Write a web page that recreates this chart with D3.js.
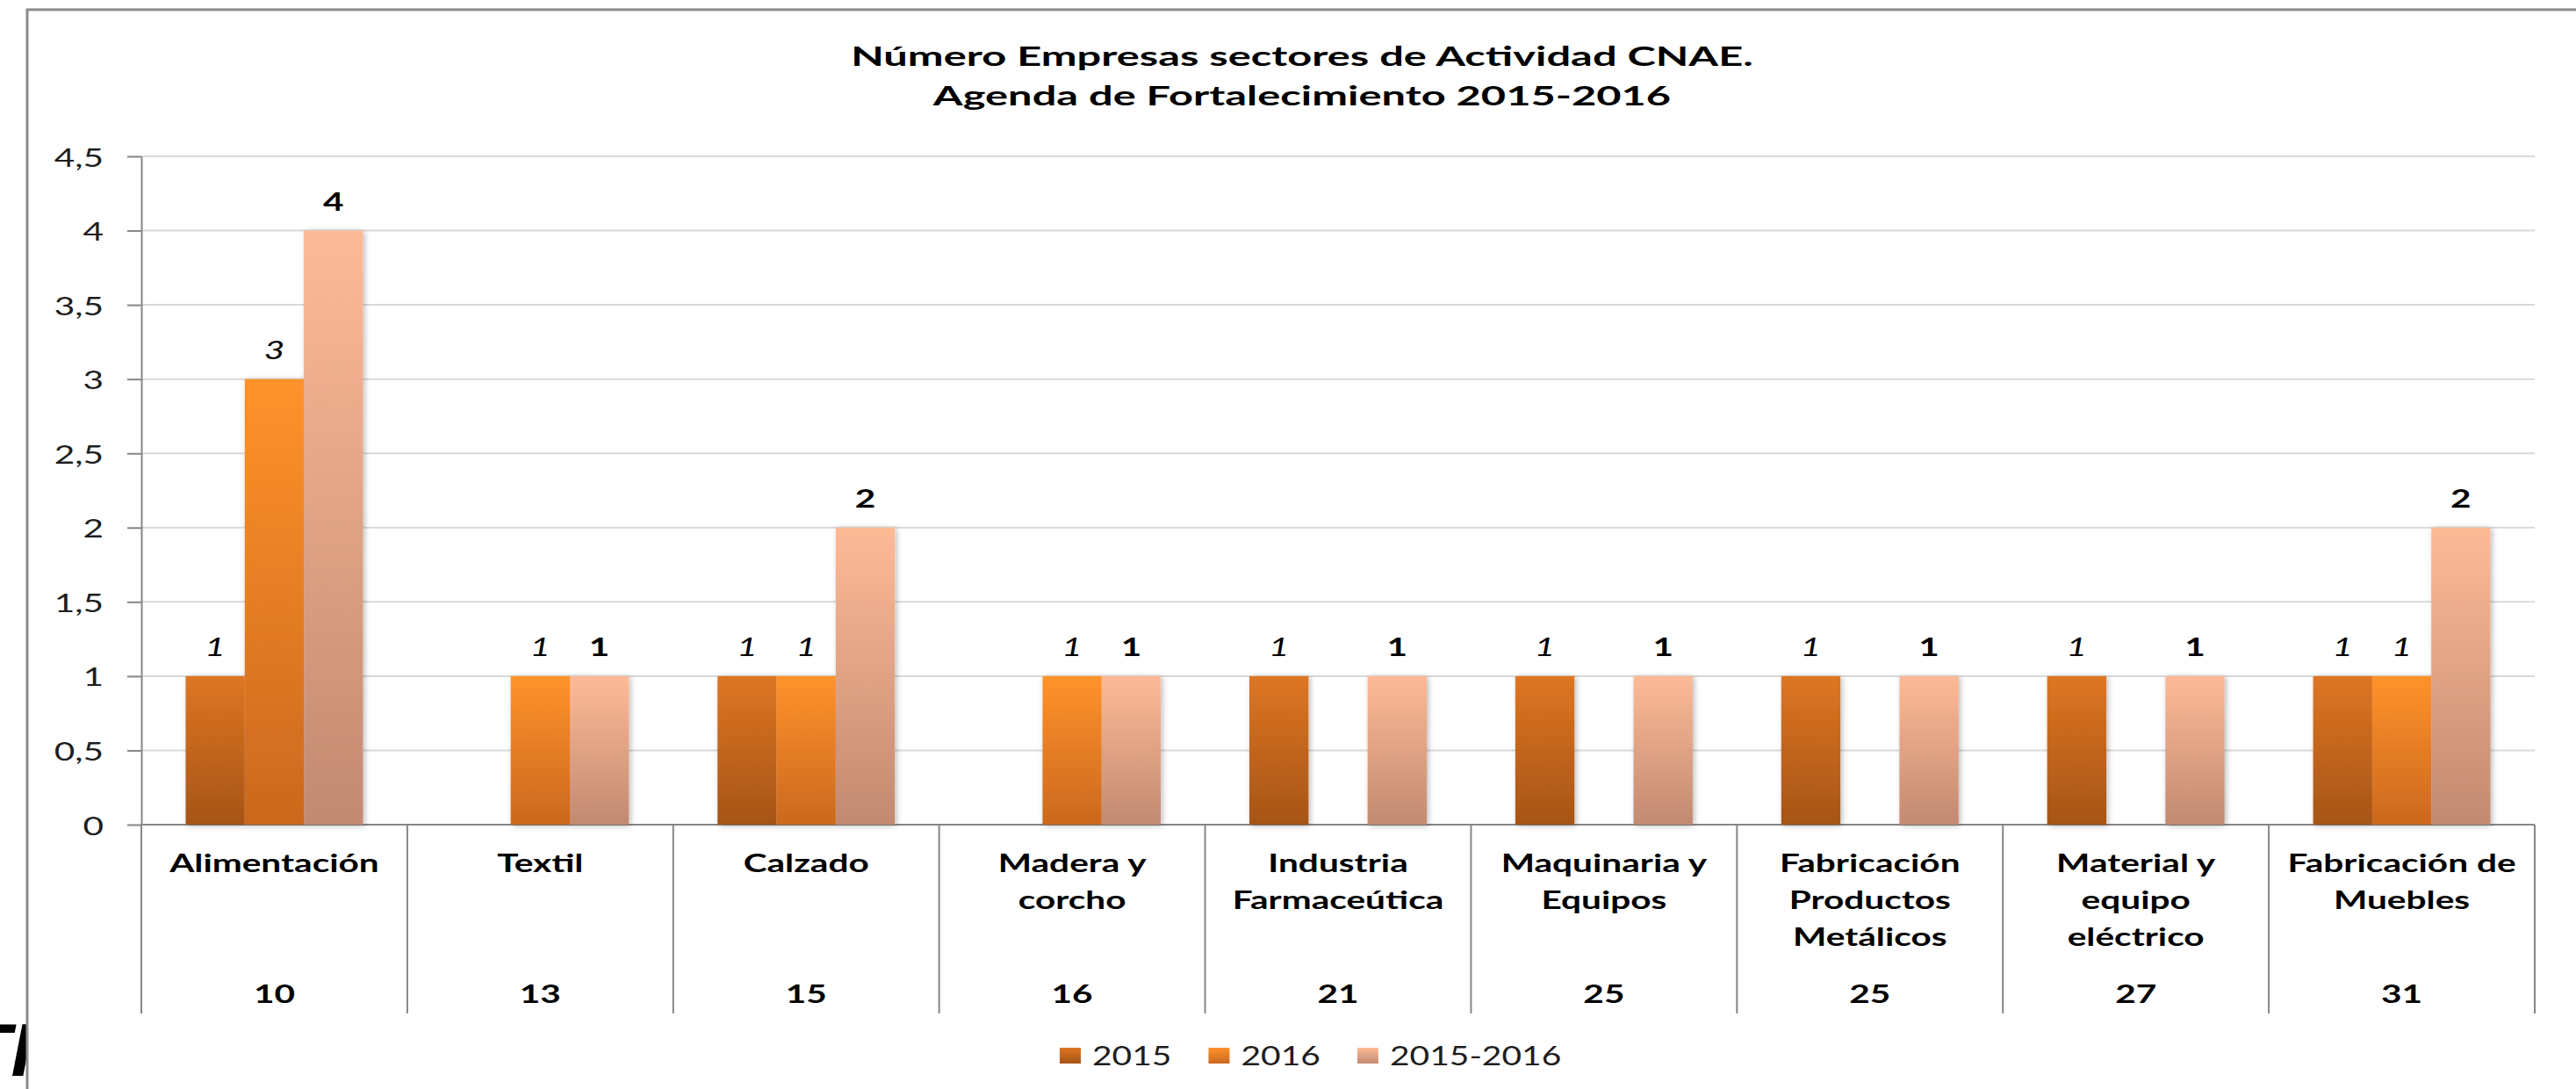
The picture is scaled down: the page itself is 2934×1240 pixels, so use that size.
<!DOCTYPE html>
<html>
<head>
<meta charset="utf-8">
<script src="https://cdnjs.cloudflare.com/ajax/libs/d3/7.8.5/d3.min.js"></script>
<style>
  html, body { margin: 0; padding: 0; background: #ffffff; }
  svg { display: block; }
</style>
</head>
<body>
<svg id="chart" width="2934" height="1240"></svg>
<script>
// ---- Data ---------------------------------------------------------------
const categories = [
  "Alimentación",
  "Textil",
  "Calzado",
  "Madera y\ncorcho",
  "Industria\nFarmaceútica",
  "Maquinaria y\nEquipos",
  "Fabricación\nProductos\nMetálicos",
  "Material y\nequipo\neléctrico",
  "Fabricación de\nMuebles"
];
const cnaeCodes = ["10", "13", "15", "16", "21", "25", "25", "27", "31"];
const seriesNames = ["2015", "2016", "2015-2016"];
const values2015      = [1, null, 1, null, 1, 1, 1, 1, 1];
const values2016      = [3, 1, 1, 1, null, null, null, null, 1];
const values2015_2016 = [4, 1, 2, 1, 1, 1, 1, 1, 2];
const yTickValues = [0, 0.5, 1, 1.5, 2, 2.5, 3, 3.5, 4, 4.5];
const titleLines = [
  "Número Empresas sectores de Actividad CNAE.",
  "Agenda de Fortalecimiento 2015-2016"
];
const strayHeading = "TI";

const seriesValues = [values2015, values2016, values2015_2016];

// ---- Layout & style -----------------------------------------------------
const plot = { left: 161, right: 2887, top: 178, bottom: 939 };
const catAxisBottom = 1154;
const SX = 1.4;          // horizontal stretch of text
const SX_TITLE = 1.6;
const SX_LEGEND = 1.3;
const FONT = "Lato, 'Open Sans', 'DejaVu Sans', sans-serif";
const palette = [
  { top: "#de7622", bottom: "#a65417" },
  { top: "#ff922b", bottom: "#cb681e" },
  { top: "#fdba97", bottom: "#c28a71" }
];
const gridColor = "#d9d9d9";
const axisColor = "#868686";

const svg = d3.select("#chart");
const defs = svg.append("defs");

palette.forEach((p, i) => {
  const g = defs.append("linearGradient")
    .attr("id", "grad" + i)
    .attr("x1", 0).attr("y1", 0).attr("x2", 0).attr("y2", 1);
  g.append("stop").attr("offset", 0).attr("stop-color", p.top);
  g.append("stop").attr("offset", 1).attr("stop-color", p.bottom);
});

const shadow = defs.append("filter").attr("id", "shadow")
  .attr("x", "-10%").attr("y", "-10%").attr("width", "120%").attr("height", "120%");
shadow.append("feDropShadow")
  .attr("dx", 2).attr("dy", 1).attr("stdDeviation", 3)
  .attr("flood-color", "#000").attr("flood-opacity", 0.28);

// heading of the surrounding page, mostly hidden behind the chart frame
svg.append("text")
  .attr("x", -40).attr("y", 1225)
  .attr("font-family", "'Liberation Sans', Arial, sans-serif")
  .attr("font-weight", "bold").attr("font-style", "italic")
  .attr("font-size", 86).attr("fill", "#000")
  .text(strayHeading);

// chart frame
svg.append("rect")
  .attr("x", 31).attr("y", 11)
  .attr("width", 3000).attr("height", 1300)
  .attr("fill", "#ffffff")
  .attr("stroke", "#8c8c8c").attr("stroke-width", 3);

// title
svg.append("g").selectAll("text")
  .data(titleLines).join("text")
  .attr("transform", (d, i) => `translate(1483,${75 + i * 45}) scale(${SX_TITLE},1)`)
  .attr("text-anchor", "middle")
  .attr("font-family", FONT).attr("font-weight", "bold")
  .attr("font-size", 30.5).attr("fill", "#000")
  .text(d => d);

// ---- Scales ---------------------------------------------------------------
const x = d3.scaleBand()
  .domain(d3.range(categories.length))
  .range([plot.left, plot.right])
  .paddingInner(0).paddingOuter(0);

const xs = d3.scaleBand()
  .domain(d3.range(seriesNames.length))
  .range([0, x.bandwidth()])
  .paddingInner(0).paddingOuter(0.75);

const y = d3.scaleLinear().domain([0, 4.5]).range([plot.bottom, plot.top]);

const fmt = d3.formatLocale({ decimal: ",", thousands: ".", grouping: [3], currency: ["", "€"] }).format("~g");

// gridlines
svg.append("g").selectAll("line")
  .data(yTickValues.filter(v => v > 0)).join("line")
  .attr("x1", plot.left).attr("x2", plot.right)
  .attr("y1", d => y(d)).attr("y2", d => y(d))
  .attr("stroke", gridColor).attr("stroke-width", 2);

// y axis
const yAxisG = svg.append("g")
  .attr("transform", `translate(${plot.left},0)`)
  .call(d3.axisLeft(y).tickValues(yTickValues).tickFormat(fmt).tickSize(16).tickSizeOuter(0));
yAxisG.select(".domain").attr("stroke", axisColor).attr("stroke-width", 2);
yAxisG.selectAll(".tick line").attr("stroke", axisColor).attr("stroke-width", 2);
yAxisG.attr("font-family", FONT).attr("font-size", 29);
yAxisG.selectAll(".tick text")
  .attr("x", null)
  .attr("dy", "0.38em")
  .attr("transform", `translate(-43,0) scale(${SX},1)`)
  .attr("fill", "#1e1e1e");

// category axis: baseline and separators
svg.append("line")
  .attr("x1", plot.left).attr("x2", plot.right)
  .attr("y1", y(0)).attr("y2", y(0))
  .attr("stroke", axisColor).attr("stroke-width", 2);

svg.append("g").selectAll("line")
  .data(d3.range(categories.length + 1)).join("line")
  .attr("x1", i => plot.left + i * x.bandwidth())
  .attr("x2", i => plot.left + i * x.bandwidth())
  .attr("y1", y(0)).attr("y2", catAxisBottom)
  .attr("stroke", axisColor).attr("stroke-width", 2);

// ---- Bars -----------------------------------------------------------------
const bars = [];
seriesValues.forEach((vals, s) => {
  vals.forEach((v, i) => { if (v != null) bars.push({ s, i, v }); });
});

svg.append("g").attr("filter", "url(#shadow)")
  .selectAll("rect").data(bars).join("rect")
  .attr("x", d => x(d.i) + xs(d.s))
  .attr("width", xs.bandwidth())
  .attr("y", d => y(d.v))
  .attr("height", d => y(0) - y(d.v))
  .attr("fill", d => `url(#grad${d.s})`);

// value labels
svg.append("g").selectAll("text").data(bars).join("text")
  .attr("transform", d => `translate(${x(d.i) + xs(d.s) + xs.bandwidth() / 2},${y(d.v) - 23}) scale(${SX},1)`)
  .attr("text-anchor", "middle")
  .attr("font-family", FONT).attr("font-size", 29)
  .attr("font-style", d => d.s < 2 ? "italic" : "normal")
  .attr("font-weight", d => d.s < 2 ? "normal" : "bold")
  .attr("fill", "#000")
  .text(d => fmt(d.v));

// category labels
const catLabels = svg.append("g").selectAll("g")
  .data(categories).join("g")
  .attr("transform", (d, i) => `translate(${x(i) + x.bandwidth() / 2},0)`);

catLabels.each(function (d, i) {
  const g = d3.select(this);
  d.split("\n").forEach((line, k) => {
    g.append("text")
      .attr("transform", `translate(0,${993 + k * 42}) scale(${SX},1)`)
      .attr("text-anchor", "middle")
      .attr("font-family", FONT).attr("font-weight", "bold")
      .attr("font-size", 29).attr("fill", "#000")
      .text(line);
  });
  g.append("text")
    .attr("transform", `translate(0,1142) scale(${SX},1)`)
    .attr("text-anchor", "middle")
    .attr("font-family", FONT).attr("font-weight", "bold")
    .attr("font-size", 29).attr("fill", "#000")
    .text(cnaeCodes[i]);
});

// ---- Legend ---------------------------------------------------------------
const legend = svg.append("g");
let lx = 1207;
seriesNames.forEach((name, s) => {
  legend.append("rect")
    .attr("x", lx).attr("y", 1193)
    .attr("width", 24).attr("height", 18)
    .attr("fill", `url(#grad${s})`);
  const t = legend.append("text")
    .attr("transform", `translate(${lx + 37},1213) scale(${SX_LEGEND},1)`)
    .attr("font-family", FONT).attr("font-size", 30)
    .attr("fill", "#1e1e1e")
    .text(name);
  const w = t.node().getComputedTextLength() * SX_LEGEND;
  lx = lx + 37 + w + 42;
});
</script>
</body>
</html>
